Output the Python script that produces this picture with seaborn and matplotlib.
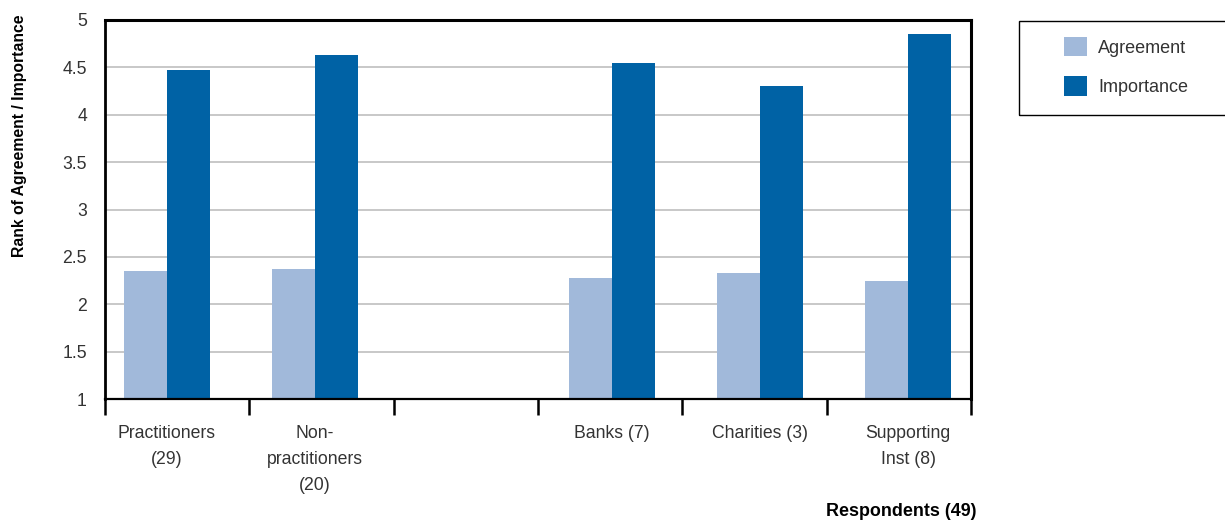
import numpy as np
import pandas as pd
import matplotlib
matplotlib.use("Agg")
import matplotlib.pyplot as plt
from matplotlib.patches import Patch, Rectangle
import seaborn as sns

# Survey results by respondent group (blank slot separates the two groups)
groups = ["Practitioners\n(29)", "Non-\npractitioners\n(20)", " ",
          "Banks (7)", "Charities (3)", "Supporting\nInst (8)"]
agreement = [2.35, 2.37, np.nan, 2.28, 2.33, 2.25]
importance = [4.47, 4.63, np.nan, 4.55, 4.30, 4.85]
series = ["Agreement", "Importance"]
colors = ["#A1B9DA", "#0062A5"]
y_ticks = [1, 1.5, 2, 2.5, 3, 3.5, 4, 4.5, 5]
y_tick_labels = ["1", "1.5", "2", "2.5", "3", "3.5", "4", "4.5", "5"]

df = pd.DataFrame({
    "group": groups * 2,
    "measure": [series[0]] * len(groups) + [series[1]] * len(groups),
    "value": agreement + importance,
})

sns.set_theme(style="white")
plt.rcParams["font.family"] = ["Liberation Sans", "DejaVu Sans"]
text_color = "#333333"

fig = plt.figure(figsize=(12.25, 5.21), dpi=100)
ax = fig.add_axes([105 / 1225, 1 - 399 / 521, (971 - 105) / 1225, (399 - 20) / 521])

sns.barplot(data=df.dropna(), x="group", y="value", hue="measure",
            order=groups, hue_order=series, palette=colors,
            width=0.58, gap=0, saturation=1, ax=ax, legend=False,
            errorbar=None, linewidth=0)

x0, x1 = -0.418, 5.425
ax.set_xlim(x0, x1)
ax.set_ylim(1, 5)
ax.set_yticks(y_ticks)
ax.set_yticklabels(y_tick_labels)
ax.yaxis.grid(True, color="#c8c8c8", linewidth=1.4)
ax.set_axisbelow(True)

# Category labels at bar centres, separator ticks between slots
ax.set_xticks(range(len(groups)))
ax.set_xticklabels(groups, linespacing=1.69)
ax.set_xticks(np.linspace(x0, x1, 7), minor=True)
ax.tick_params(axis="x", which="major", bottom=True, length=0, pad=19,
               labelsize=12.7, labelcolor=text_color)
ax.tick_params(axis="x", which="minor", bottom=True, length=11.5, width=1.8,
               color="black", direction="out")
ax.tick_params(axis="y", length=0, pad=13, labelsize=12.7,
               labelcolor=text_color)

for side, lw in [("left", 2.0), ("bottom", 1.6), ("top", 2.2), ("right", 2.2)]:
    ax.spines[side].set_visible(True)
    ax.spines[side].set_color("black")
    ax.spines[side].set_linewidth(lw)

ax.set_xlabel("")
ax.set_ylabel("")
fig.text(20 / 1225, 1 - 136 / 521, "Rank of Agreement / Importance",
         rotation=90, ha="center", va="center", fontsize=11.3,
         fontweight="bold", color="black")
fig.text(977 / 1225, 1 - 512 / 521, "Respondents (49)", ha="right",
         va="center", fontsize=12.9, fontweight="bold", color="black")

# Legend box running off the right edge
fig.patches.append(Rectangle((1019 / 1225, 1 - 115 / 521), 0.3, 94 / 521,
                             transform=fig.transFigure, fill=False,
                             edgecolor="black", linewidth=1.0))
handles = [Patch(facecolor=c, edgecolor="none", label=s)
           for s, c in zip(series, colors)]
fig.legend(handles=handles, loc="upper left",
           bbox_to_anchor=(1064 / 1225, 1 - 37 / 521),
           frameon=False, borderpad=0, borderaxespad=0,
           handlelength=1.28, handleheight=1.28, handletextpad=0.6,
           labelspacing=1.09, fontsize=13, labelcolor=text_color)

fig.savefig("out.png", dpi=100)
